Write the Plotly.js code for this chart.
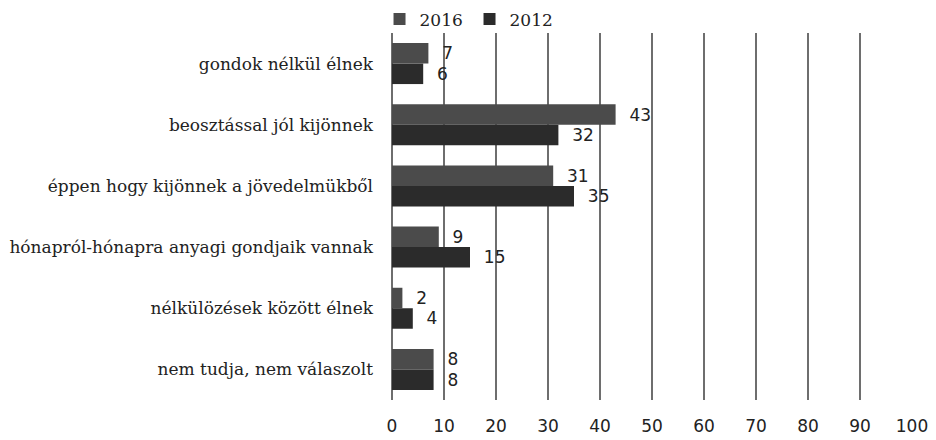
<!DOCTYPE html>
<html><head><meta charset="utf-8">
<script src="https://cdn.plot.ly/plotly-3.0.1.min.js"></script>
<style>html,body{margin:0;padding:0;background:#fff}</style>
</head><body><div id="chart" style="width:936px;height:440px"></div>
<script>
const categories = ["gondok nélkül élnek","beosztással jól kijönnek","éppen hogy kijönnek a jövedelmükből","hónapról-hónapra anyagi gondjaik vannak","nélkülözések között élnek","nem tudja, nem válaszolt"];
const values2016 = [7,43,31,9,2,8];
const values2012 = [6,32,35,15,4,8];
const xTicks = [0,10,20,30,40,50,60,70,80,90,100];

const labelFont = {family:"DejaVu Sans, Verdana, sans-serif", size:17, color:"#222"};
const traces = [
  {type:"bar", orientation:"h", name:"2016", y:categories, x:values2016,
   texttemplate:"\u00a0\u00a0%{x}", textposition:"outside", cliponaxis:false, textfont:labelFont,
   marker:{color:"#4b4b4b"}},
  {type:"bar", orientation:"h", name:"2012", y:categories, x:values2012,
   texttemplate:"\u00a0\u00a0%{x}", textposition:"outside", cliponaxis:false, textfont:labelFont,
   marker:{color:"#2b2b2b"}}
];
const layout = {
  width:936, height:440,
  margin:{l:392, r:24, t:33, b:40, autoexpand:false},
  paper_bgcolor:"#fff", plot_bgcolor:"#fff",
  barmode:"group", bargap:0.33, bargroupgap:0,
  showlegend:true,
  legend:{orientation:"h", x:-0.024, y:0.988, yanchor:"bottom", xanchor:"left",
          font:{family:"DejaVu Serif, serif", size:17, color:"#222"},
          itemwidth:30, entrywidth:45, tracegroupgap:0, bgcolor:"rgba(0,0,0,0)"},
  xaxis:{range:[0,100], tickvals:xTicks, showgrid:true, gridcolor:"#6e6e6e", gridwidth:2,
         zeroline:true, zerolinecolor:"#6e6e6e", zerolinewidth:2, showline:false, ticks:"",
         ticklabelstandoff:14,
         tickfont:{family:"DejaVu Sans, Verdana, sans-serif", size:17, color:"#222"}, fixedrange:true},
  yaxis:{type:"category", autorange:"reversed", showgrid:false, zeroline:false, showline:false, ticks:"",
         ticklabelstandoff:18,
         tickfont:{family:"DejaVu Serif, serif", size:17, color:"#222"}}
};
Plotly.newPlot("chart", traces, layout, {displayModeBar:false, staticPlot:true});
</script></body></html>
